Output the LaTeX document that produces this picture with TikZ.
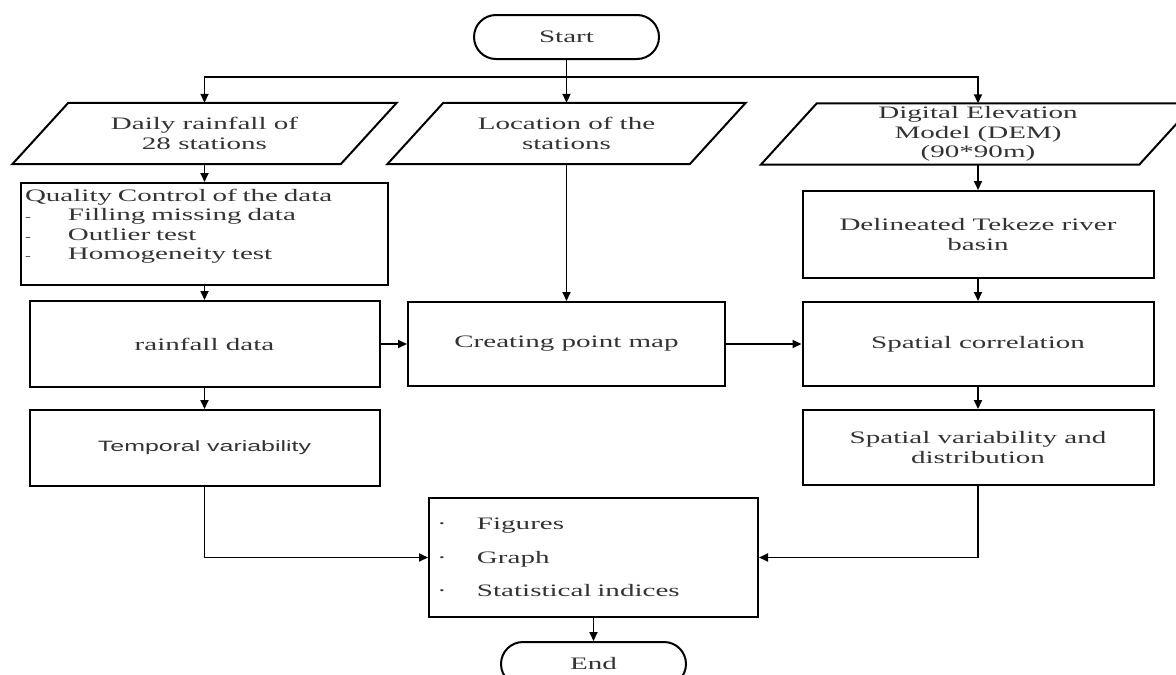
\documentclass[tikz,border=0pt]{standalone}
\usepackage{fontspec}
\setmainfont[FakeStretch=1.66]{Liberation Serif}
\newfontfamily\tvsans[FakeStretch=1.66]{Liberation Sans}
\usetikzlibrary{arrows.meta,calc}
\begin{document}
\begin{tikzpicture}[x=1pt,y=-1pt,
  every node/.style={font=\fontsize{17.5}{19.5}\selectfont, text=black!80},
  box/.style={draw, line width=2pt, rectangle, inner sep=0pt, align=center},
  term/.style={draw, line width=2pt, rounded corners=22pt, minimum width=185pt, minimum height=44pt, inner sep=0pt},
  io/.style={rectangle, inner sep=0pt, minimum height=61pt, align=center},
  conn/.style={line width=1.8pt, -{Triangle[length=9pt,width=8pt]}},
  plain/.style={line width=2pt}]
\useasboundingbox (0,0) rectangle (1176,675);
\clip (0,0) rectangle (1176,675);

% terminals
\node[term] (start) at (566.5,37) {Start};
\node[term] (end) at (593.5,664) {End};

% input parallelograms
\node[io, minimum width=328pt] (p1) at (204.5,133.5) {Daily rainfall of\\28 stations};
\node[io, minimum width=302pt] (p2) at (566.5,133.5) {Location of the\\stations};
\node[io, minimum width=378pt] (p3) at (978,134) {Digital Elevation\\Model (DEM)\\(90*90m)};
\foreach \p in {p1,p2,p3}{
  \draw[plain] ([xshift=28pt]\p.north west) -- ([xshift=28pt]\p.north east)
    -- ([xshift=-28pt]\p.south east) -- ([xshift=-28pt]\p.south west) -- cycle;
}

% left column
\node[box, minimum width=367pt, minimum height=102pt, text width=359pt, align=left] (qc) at (204.5,234)
  {Quality Control of the data\\
   \makebox[43pt][l]{\scalebox{0.6}{-}}Filling missing data\\
   \makebox[43pt][l]{\scalebox{0.6}{-}}Outlier test\\
   \makebox[43pt][l]{\scalebox{0.6}{-}}Homogeneity test\\
   \mbox{}};
\node[box, minimum width=350pt, minimum height=86pt] (rain) at (204.5,344) {rainfall data};
\node[box, minimum width=350pt, minimum height=76pt, font=\tvsans\fontsize{15}{18}\selectfont] (temp) at (204.5,448) {Temporal variability};

% middle column
\node[box, minimum width=317pt, minimum height=84pt] (create) at (566.5,344) {Creating point map};

% right column
\node[box, minimum width=351pt, minimum height=87pt] (del) at (978,234.5) {Delineated Tekeze river\\basin};
\node[box, minimum width=351pt, minimum height=84pt] (spcorr) at (978,344) {Spatial correlation};
\node[box, minimum width=351pt, minimum height=75pt] (spvar) at (978,447.5) {Spatial variability and\\distribution};

% output box
\node[box, minimum width=329pt, minimum height=119pt, text width=313pt, align=left,
      font=\fontsize{17.5}{33.5}\selectfont] (out) at (593.5,557.5)
  {\makebox[40pt][l]{·}Figures\\
   \makebox[40pt][l]{·}Graph\\
   \makebox[40pt][l]{·}Statistical indices};

% connectors
\coordinate (hl) at (566.5,77);
\draw[conn] (start) -- (p2);
\draw[conn] (hl) -| (p1.north);
\draw[conn] (hl) -| (p3.north);
\draw[conn] (p1) -- (qc);
\draw[conn] (qc) -- (rain);
\draw[conn] (rain) -- (temp);
\draw[conn] (p2) -- (create);
\draw[conn] (rain) -- (create);
\draw[conn] (create) -- (spcorr);
\draw[conn] (p3) -- (del);
\draw[conn] (del) -- (spcorr);
\draw[conn] (spcorr) -- (spvar);
\draw[conn] (temp.south) |- (out.west);
\draw[conn] (spvar.south) |- (out.east);
\draw[conn] (out) -- (end);
\end{tikzpicture}
\end{document}
